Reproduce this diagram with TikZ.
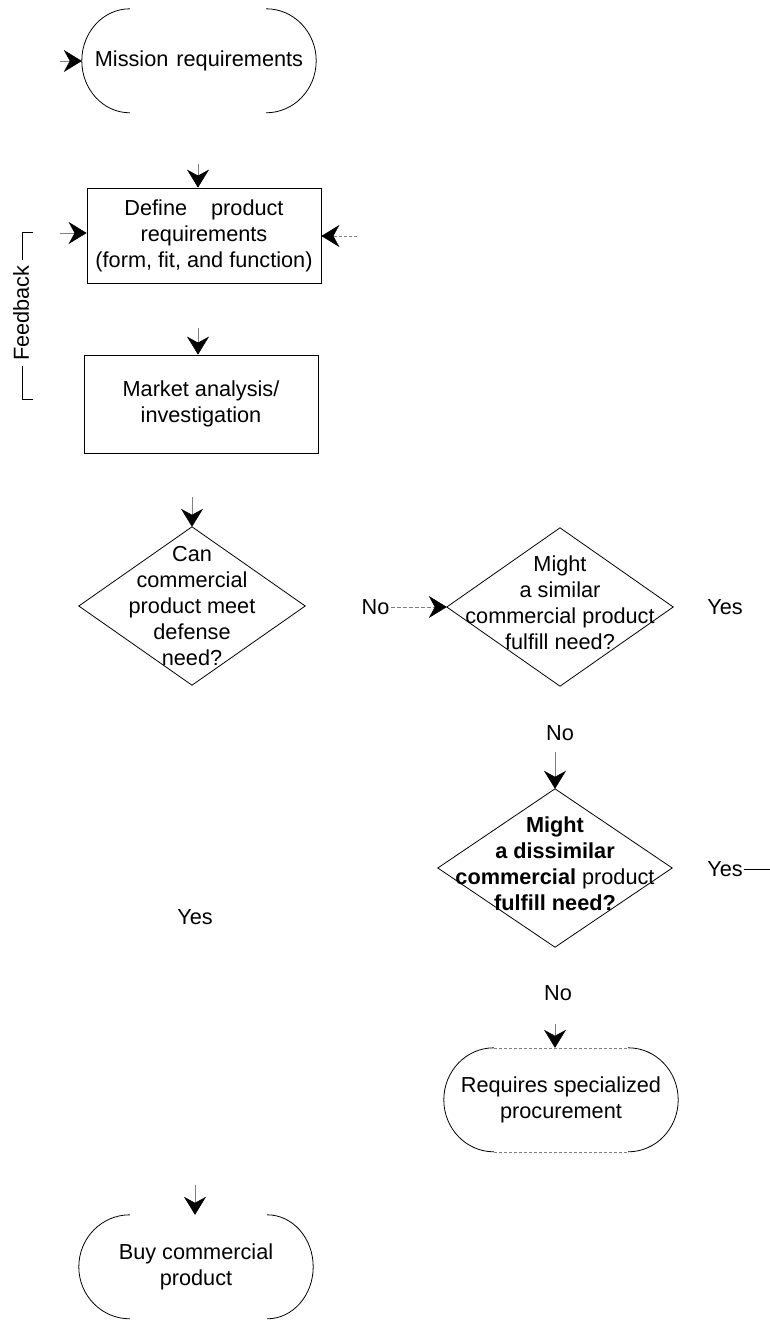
\documentclass[tikz,border=0pt]{standalone}
\usepackage{fontspec}
\setmainfont{Liberation Sans}
\usetikzlibrary{arrows.meta}
\begin{document}
\begin{tikzpicture}[x=1pt,y=-1pt,
  every node/.style={font=\fontsize{21.7}{26}\selectfont, align=center},
  box/.style={draw, line width=0.8pt, minimum width=234pt, inner sep=0pt},
  term/.style={minimum width=234pt, minimum height=104pt, inner sep=0pt},
  dia/.style={minimum width=226pt, minimum height=158pt, inner sep=0pt},
  edge/.style={line width=0.8pt},
  thinline/.style={line width=0.6pt},
  arr/.style={line width=0.5pt, draw=gray, -{Stealth[length=18pt, width=22pt, inset=6pt, color=black, fill=black]}},
  faint/.style={line width=0.5pt, draw=gray, dash pattern=on 3pt off 2pt},
  lbl/.style={inner sep=1pt}
]
\path[use as bounding box] (0,0) rectangle (770,1321);

% Mission requirements
\node[term] (mis) at (199,61) {Mission\hspace{8pt}requirements};
\draw[edge] ([xshift=48pt]mis.north west) arc[start angle=90,end angle=270,x radius=48pt,y radius=52pt];
\draw[edge] ([xshift=-50pt]mis.north east) arc[start angle=90,end angle=-90,x radius=50pt,y radius=52pt];
\coordinate (misin) at (60,61);
\draw[arr] (misin) -- (mis.west);

% Define product requirements
\node[box, minimum height=95pt] (def) at (204,235.5) {Define\hspace{24pt}product\\requirements\\(form, fit, and function)};
\coordinate (defin) at (198,164);
\draw[arr] (defin) -- (defin |- def.north);
\coordinate (fbin) at (60,233);
\draw[arr] (fbin) -- (fbin -| def.west);
\coordinate (rin) at (357,236);
\draw[arr, dash pattern=on 3pt off 2pt] (rin) -- (rin -| def.east);

% Feedback
\coordinate (fbtop) at (33,232);
\coordinate (fbbot) at (33,399);
\draw[thinline] (fbtop) -- (22,232) -- (22,399) -- (fbbot);
\node[fill=white, rotate=90, inner sep=5pt] (fb) at (21,313) {Feedback};

% Market analysis
\node[box, minimum height=98pt] (mkt) at (201,404) {Market analysis/\\investigation};
\coordinate (mktin) at (198,328);
\draw[arr] (mktin) -- (mktin |- mkt.north);

% Diamond 1
\node[dia] (d1) at (192,606) {Can\\commercial\\product meet\\defense\\need?};
\draw[edge] (d1.north) -- (d1.east) -- (d1.south) -- (d1.west) -- cycle;
\coordinate (d1in) at (192,497);
\draw[arr] (d1in) -- (d1.north);

% Diamond 2
\node[dia] (d2) at (560,607) {Might\\a similar\\commercial product\\fulfill need?\rule[-8pt]{0pt}{8pt}};
\draw[edge] (d2.north) -- (d2.east) -- (d2.south) -- (d2.west) -- cycle;
\node[lbl] (no1) at (375.5,607) {No};
\draw[arr, dash pattern=on 4pt off 2pt] (no1.east) -- (d2.west);
\node[lbl] (yes2) at (725,607) {Yes};
\node[lbl] (no2) at (560,733) {No};

% Diamond 3
\node[dia, minimum width=234pt] (d3) at (555,868) {\textbf{Might}\\\textbf{a dissimilar}\\\textbf{commercial} product\\\textbf{fulfill need?}\rule[-8pt]{0pt}{8pt}};
\draw[edge] (d3.north) -- (d3.east) -- (d3.south) -- (d3.west) -- cycle;
\coordinate (d3in) at (555,752);
\draw[arr] (d3in) -- (d3.north);
\node[lbl] (yes3) at (725,869) {Yes};
\coordinate (yes3end) at (770,869);
\draw[thinline] (yes3.east) -- (yes3end);
\node[lbl] (no3) at (558,993) {No};

% Requires specialized procurement
\node[term] (req) at (561,1100) {Requires specialized\\procurement};
\draw[edge] ([xshift=50pt]req.north west) arc[start angle=90,end angle=270,x radius=50pt,y radius=52pt];
\draw[edge] ([xshift=-50pt]req.north east) arc[start angle=90,end angle=-90,x radius=50pt,y radius=52pt];
\draw[faint] ([xshift=50pt]req.north west) -- ([xshift=-50pt]req.north east);
\draw[faint] ([xshift=50pt]req.south west) -- ([xshift=-50pt]req.south east);
\coordinate (reqin) at (555,1024);
\draw[arr] (reqin) -- (reqin |- req.north);

% Yes label (left branch)
\node[lbl] (yes1) at (195,917) {Yes};

% Buy commercial product
\node[term] (buy) at (196,1267) {Buy commercial\\product};
\draw[edge] ([xshift=51pt]buy.north west) arc[start angle=90,end angle=270,x radius=51pt,y radius=52pt];
\draw[edge] ([xshift=-46pt]buy.north east) arc[start angle=90,end angle=-90,x radius=46pt,y radius=52pt];
\coordinate (buyin) at (195,1185);
\draw[arr] (buyin) -- (buyin |- buy.north);
\end{tikzpicture}
\end{document}
